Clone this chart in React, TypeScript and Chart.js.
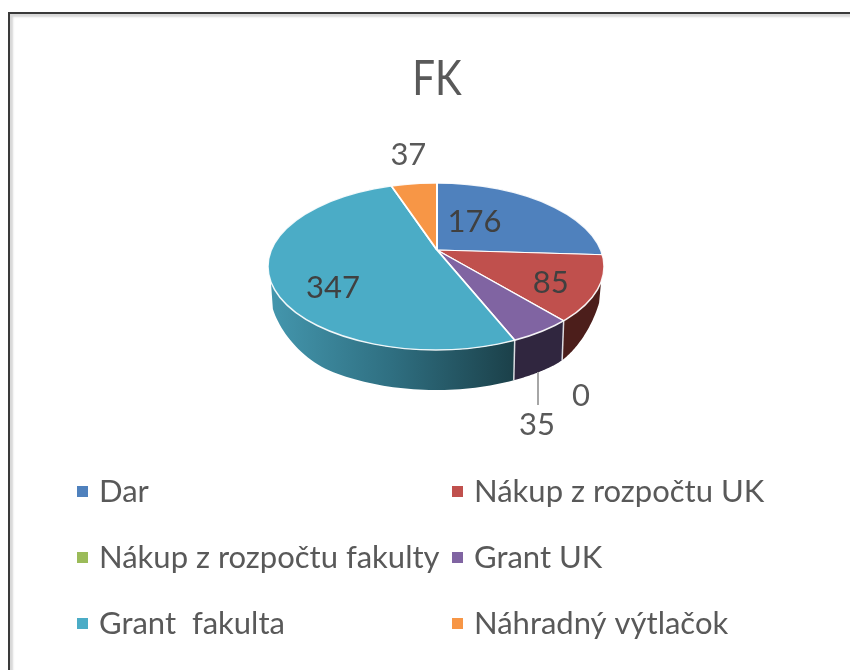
import React, { useEffect, useRef } from "react";
import { Chart, registerables } from "chart.js";

Chart.register(...registerables);

const TITLE = "FK";
const categories = ["Dar", "Nákup z rozpočtu UK", "Nákup z rozpočtu fakulty", "Grant UK", "Grant  fakulta", "Náhradný výtlačok"];
const values = [176, 85, 0, 35, 347, 37];
const topColors = ["#4f81bd", "#c0504d", "#9bbb59", "#8064a2", "#4bacc6", "#f79646"];

// Pie geometry (tilted 3D look)
const V = { x: 437, y: 250 };
const TILT = 0.5;
const E = { x: 436, y: 266.5, rx: 168, ry: 83.5 };
const WALL_CLIP = 0.187;
const labelOffsets = [[-42, 10], [15, 9], [71, 105], [41, 129], [-2, 18], [-10, -41]];
const FONT = "Lato";

function wallHeight(x: number) {
  if (x > 555) return 40 - 20 * Math.pow((x - 555) / 47, 2);
  if (x < 330) return 40 - 0.0037 * Math.pow(330 - x, 2);
  return 40;
}

function hitAngle(a: number) {
  const dx = Math.cos(a);
  const dy = Math.sin(a) * TILT;
  const ox = (V.x - E.x) / E.rx;
  const oy = (V.y - E.y) / E.ry;
  const ux = dx / E.rx;
  const uy = dy / E.ry;
  const A = ux * ux + uy * uy;
  const B = 2 * (ox * ux + oy * uy);
  const C = ox * ox + oy * oy - 1;
  const t = (-B + Math.sqrt(B * B - 4 * A * C)) / (2 * A);
  return Math.atan2(oy + uy * t, ox + ux * t);
}

function wallFill(ctx: CanvasRenderingContext2D, i: number) {
  if (i === 4) {
    const g = ctx.createLinearGradient(E.x - E.rx, 0, 515, 0);
    g.addColorStop(0, "#4497ae");
    g.addColorStop(0.5, "#2f6f81");
    g.addColorStop(1, "#1b4049");
    return g;
  }
  return ["#2c4a70", "#4c1e1b", "#5a6e34", "#30263f", "#1b4049", "#8f5520"][i];
}

function wallBottom(x: number, y: number) {
  return [x + ((x < E.x ? 2 : -2) * Math.abs(x - E.x)) / E.rx, y + wallHeight(x)];
}

function drawWalls(ctx: CanvasRenderingContext2D, arcs: any[]) {
  arcs.forEach((arc, i) => {
    const p0 = hitAngle(arc.startAngle);
    let p1 = hitAngle(arc.endAngle);
    if (p1 < p0) p1 += Math.PI * 2;
    const lo = Math.max(p0, WALL_CLIP);
    const hi = Math.min(p1, Math.PI - WALL_CLIP);
    if (hi <= lo || arc.endAngle - arc.startAngle < 1e-4) return;
    const steps = 60;
    const top: number[][] = [];
    for (let s = 0; s <= steps; s++) {
      const p = lo + ((hi - lo) * s) / steps;
      top.push([E.x + E.rx * Math.cos(p), E.y + E.ry * Math.sin(p)]);
    }
    ctx.beginPath();
    top.forEach(([x, y], k) => (k ? ctx.lineTo(x, y) : ctx.moveTo(x, y)));
    for (let k = top.length - 1; k >= 0; k--) {
      const [bx, by] = wallBottom(top[k][0], top[k][1]);
      ctx.lineTo(bx, by);
    }
    ctx.closePath();
    ctx.fillStyle = wallFill(ctx, i);
    ctx.fill();
  });
  // Light seams on both sides of the small front slice
  const purple = arcs[3];
  [purple.startAngle, purple.endAngle].forEach((a: number) => {
    const p = hitAngle(a);
    const x = E.x + E.rx * Math.cos(p);
    const y = E.y + E.ry * Math.sin(p);
    const [bx, by] = wallBottom(x, y);
    ctx.strokeStyle = "rgba(235,235,240,0.9)";
    ctx.lineWidth = 1.5;
    ctx.beginPath();
    ctx.moveTo(x, y);
    ctx.lineTo(bx, by);
    ctx.stroke();
  });
}

const tiltedPie = {
  id: "tiltedPie",
  beforeDatasetsDraw(chart: any) {
    const ctx = chart.ctx;
    const arcs = chart.getDatasetMeta(0).data;
    ctx.save();
    drawWalls(ctx, arcs);
    ctx.beginPath();
    ctx.ellipse(E.x, E.y, E.rx, E.ry, 0, 0, Math.PI * 2);
    ctx.clip();
    ctx.translate(0, V.y);
    ctx.scale(1, TILT);
    ctx.translate(0, -V.y);
    arcs.forEach((a: any) => a.draw(ctx));
    ctx.restore();
    ctx.save();
    ctx.beginPath();
    ctx.ellipse(E.x, E.y, E.rx, E.ry, 0, 0, Math.PI * 2);
    ctx.strokeStyle = "rgba(255,255,255,0.9)";
    ctx.lineWidth = 1.5;
    ctx.stroke();
    ctx.restore();
    return false;
  },
  afterDraw(chart: any) {
    const ctx = chart.ctx;
    const arcs = chart.getDatasetMeta(0).data;
    ctx.save();
    ctx.filter = "blur(0.6px)";
    ctx.textBaseline = "middle";
    ctx.textAlign = "center";

    // Title (slightly condensed)
    ctx.fillStyle = "#595959";
    ctx.font = `48px ${FONT}`;
    ctx.save();
    ctx.translate(437, 80);
    ctx.scale(0.84, 1);
    ctx.fillText(TITLE, 0, 0);
    ctx.restore();

    // Leader line for the small slice
    ctx.strokeStyle = "#a6a6a6";
    ctx.lineWidth = 2;
    ctx.beginPath();
    ctx.moveTo(538, 372);
    ctx.lineTo(538, 405);
    ctx.stroke();

    // Data labels
    ctx.font = `31px ${FONT}`;
    arcs.forEach((arc: any, i: number) => {
      const c = arc.getCenterPoint();
      const x = c.x + labelOffsets[i][0];
      const y = V.y + (c.y - V.y) * TILT + labelOffsets[i][1];
      ctx.fillStyle = "#404040";
      if (i === 2 || i === 3 || i === 5) ctx.fillStyle = "#595959";
      ctx.fillText(String(values[i]), x, y);
    });

    // Legend (two columns)
    ctx.textAlign = "left";
    ctx.font = `31px ${FONT}`;
    categories.forEach((name, i) => {
      const col = i % 2;
      const row = Math.floor(i / 2);
      const sx = col ? 452 : 77;
      const cy = 492 + row * 66;
      ctx.fillStyle = topColors[i];
      ctx.fillRect(sx, cy - 6, 11, 11);
      ctx.fillStyle = "#595959";
      ctx.fillText(name, sx + 22, cy);
    });
    ctx.restore();
  },
};

export default function App() {
  const ref = useRef<HTMLCanvasElement>(null);
  useEffect(() => {
    const chart = new Chart(ref.current!, {
      type: "pie",
      data: {
        labels: categories,
        datasets: [{ data: values, backgroundColor: topColors, borderColor: "#ffffff", borderWidth: 2 }],
      },
      options: {
        responsive: false,
        animation: false,
        layout: { padding: { left: 217, right: 193, top: 30, bottom: 200 } },
        plugins: { legend: { display: false }, title: { display: false }, tooltip: { enabled: false } },
      },
      plugins: [tiltedPie],
    } as any);
    return () => chart.destroy();
  }, []);
  return (
    <div>
      <div
        style={{
          position: "fixed",
          left: 8,
          top: 12,
          right: 0,
          bottom: 0,
          borderLeft: "2px solid #3a3a3a",
          borderTop: "2px solid #3a3a3a",
          boxShadow: "inset 3px 3px 2px #d8d8d8",
        }}
      />
      <canvas ref={ref} width={850} height={670} style={{ position: "fixed", left: 0, top: 0 }} />
    </div>
  );
}
